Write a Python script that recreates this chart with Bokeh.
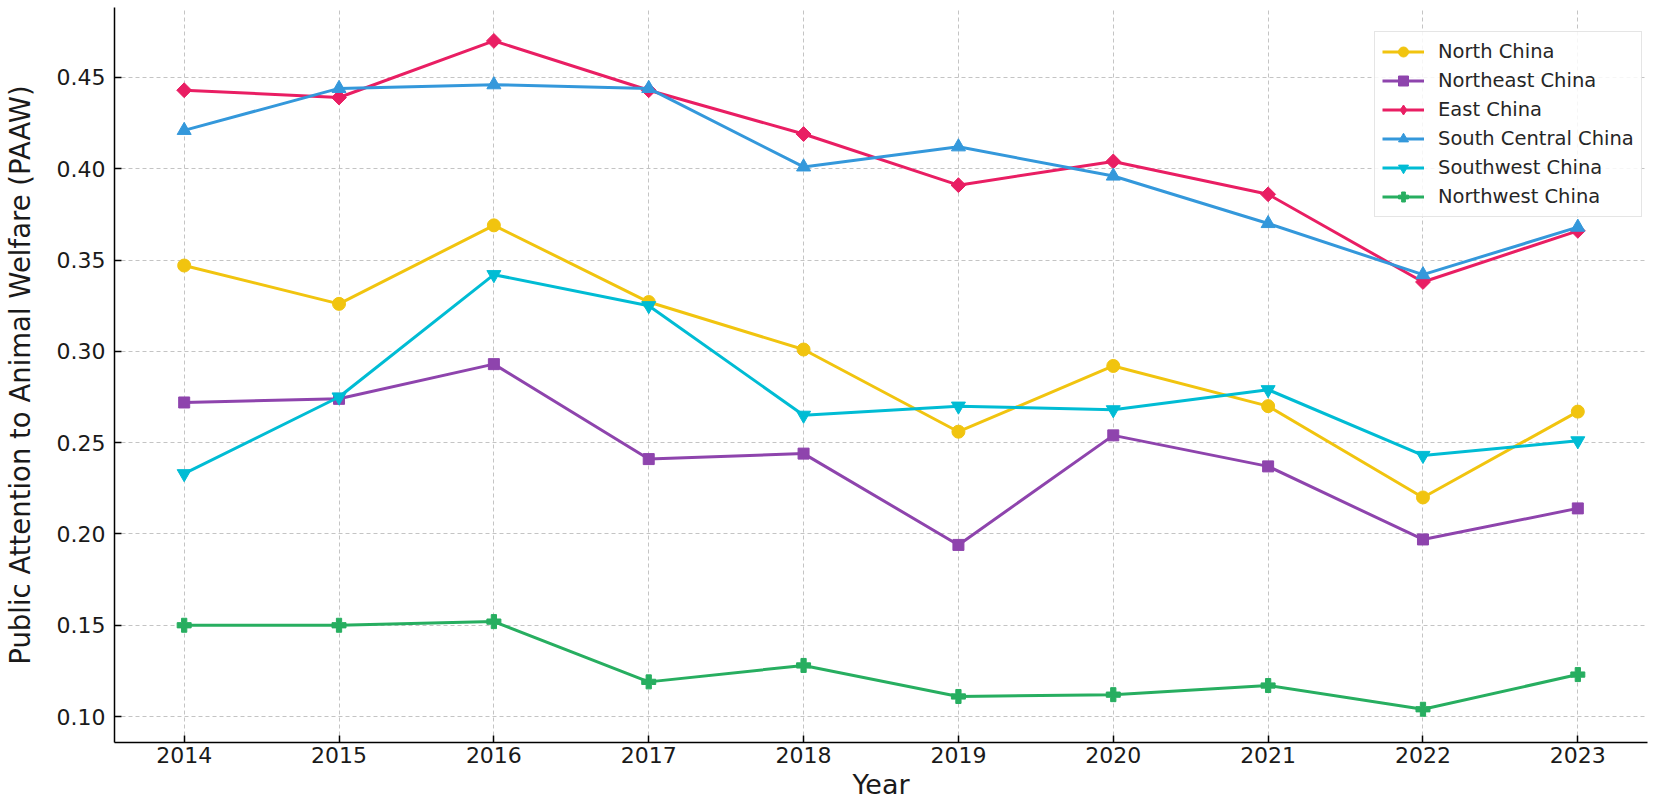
import numpy as np
from bokeh.plotting import figure
from bokeh.models import Range1d, Legend, LegendItem, FixedTicker, PrintfTickFormatter
from bokeh.embed import file_html
from bokeh.resources import INLINE

years = [2014, 2015, 2016, 2017, 2018, 2019, 2020, 2021, 2022, 2023]
north_china = [0.347, 0.326, 0.369, 0.327, 0.301, 0.256, 0.292, 0.270, 0.220, 0.267]
northeast_china = [0.272, 0.274, 0.293, 0.241, 0.244, 0.194, 0.254, 0.237, 0.197, 0.214]
east_china = [0.443, 0.439, 0.470, 0.443, 0.419, 0.391, 0.404, 0.386, 0.338, 0.366]
south_central_china = [0.421, 0.444, 0.446, 0.444, 0.401, 0.412, 0.396, 0.370, 0.342, 0.368]
southwest_china = [0.233, 0.275, 0.342, 0.325, 0.265, 0.270, 0.268, 0.279, 0.243, 0.251]
northwest_china = [0.150, 0.150, 0.152, 0.119, 0.128, 0.111, 0.112, 0.117, 0.104, 0.123]
y_ticks = [0.10, 0.15, 0.20, 0.25, 0.30, 0.35, 0.40, 0.45]

series = [
    ("North China", north_china, "#F1C40F", "circle", 13, 0),
    ("Northeast China", northeast_china, "#8E44AD", "square", 11, 0),
    ("East China", east_china, "#E91E63", "square", 10.5, np.pi / 4),
    ("South Central China", south_central_china, "#3498DB", "triangle", 14, 0),
    ("Southwest China", southwest_china, "#00BCD4", "inverted_triangle", 14, 0),
    ("Northwest China", northwest_china, "#27AE60", "plus", 14, 0),
]

FONT = "DejaVu Sans"

p = figure(width=1654, height=807, output_backend="svg", toolbar_location=None,
           x_range=Range1d(2013.55, 2023.45), y_range=Range1d(0.0858, 0.4883),
           min_border_left=111, min_border_right=7, min_border_top=7, min_border_bottom=65)
p.outline_line_color = None
p.background_fill_color = "white"

for ax in (p.xaxis[0], p.yaxis[0]):
    ax.axis_line_color = "black"
    ax.axis_line_width = 1.5
    ax.major_tick_in = 7
    ax.major_tick_out = 0
    ax.major_tick_line_color = "black"
    ax.major_tick_line_width = 1.5
    ax.minor_tick_line_color = None
    ax.major_label_text_font = FONT
    ax.major_label_text_font_size = "22px"
    ax.major_label_text_color = "#1a1a1a"
    ax.axis_label_text_font = FONT
    ax.axis_label_text_font_size = "27px"
    ax.axis_label_text_font_style = "normal"
    ax.axis_label_text_color = "#1a1a1a"

p.xaxis.ticker = FixedTicker(ticks=years)
p.xaxis.formatter = PrintfTickFormatter(format="%d")
p.xaxis.major_label_standoff = 4
p.xaxis.axis_label = "Year"
p.xaxis.axis_label_standoff = 3

p.yaxis.ticker = FixedTicker(ticks=y_ticks)
p.yaxis.formatter = PrintfTickFormatter(format="%.2f")
p.yaxis.major_label_standoff = 9
p.yaxis.axis_label = "Public Attention to Animal Welfare (PAAW)"
p.yaxis.axis_label_text_font_size = "27.5px"
p.yaxis.axis_label_standoff = 18

for g in (p.xgrid[0], p.ygrid[0]):
    g.grid_line_color = "#c4c4c4"
    g.grid_line_dash = "4 3"
    g.grid_line_width = 1

items = []
for name, vals, color, marker, size, angle in series:
    lr = p.line(years, vals, line_color=color, line_width=3)
    sr = p.scatter(years, vals, marker=marker, size=size, angle=angle,
                   fill_color=color, line_color=color, line_width=1)
    if angle:
        # legend-only swatch (no data drawn) so the legend shows a diamond
        key = p.scatter([np.nan], [np.nan], marker="diamond", size=21,
                        fill_color=color, line_color=color, line_width=1)
        items.append(LegendItem(label=name, renderers=[lr, key]))
    else:
        items.append(LegendItem(label=name, renderers=[lr, sr]))

legend = Legend(items=items, location=(1260, 525), margin=0)
legend.label_text_font = FONT
legend.label_text_font_size = "19.5px"
legend.label_text_color = "#262626"
legend.glyph_width = 42
legend.glyph_height = 25
legend.label_height = 25
legend.spacing = 4
legend.padding = 7
legend.label_standoff = 14
legend.border_line_color = "#cccccc"
legend.border_line_width = 1
legend.background_fill_color = "white"
legend.background_fill_alpha = 0.85
p.add_layout(legend, "center")

open("out.html", "w").write(file_html(p, INLINE))
